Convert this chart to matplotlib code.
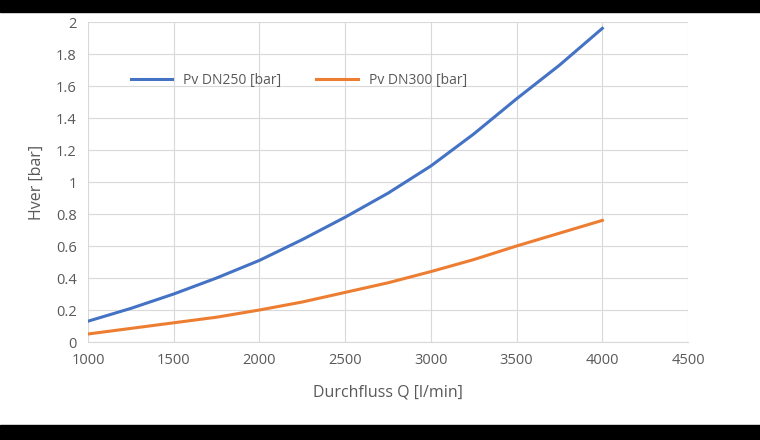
import matplotlib
matplotlib.use("Agg")
import matplotlib.pyplot as plt
from matplotlib.patches import Rectangle

q = [1000, 1250, 1500, 1750, 2000, 2250, 2500, 2750, 3000, 3250, 3500, 3750, 4000]
dn250 = [0.13, 0.21, 0.30, 0.40, 0.51, 0.64, 0.78, 0.93, 1.10, 1.30, 1.52, 1.73, 1.96]
dn300 = [0.05, 0.085, 0.12, 0.155, 0.20, 0.25, 0.31, 0.37, 0.44, 0.515, 0.60, 0.68, 0.76]
xticks = [1000, 1500, 2000, 2500, 3000, 3500, 4000, 4500]
yticks = [0, 0.2, 0.4, 0.6, 0.8, 1, 1.2, 1.4, 1.6, 1.8, 2]
ylabels = ["0", "0.2", "0.4", "0.6", "0.8", "1", "1.2", "1.4", "1.6", "1.8", "2"]

plt.rcParams["font.family"] = "Open Sans"
fig = plt.figure(figsize=(7.6, 4.4), dpi=100)
fig.patches.append(Rectangle((0, 1 - 12/440), 1, 12/440, transform=fig.transFigure, color="black", zorder=0))
fig.patches.append(Rectangle((0, 0), 1, 15/440, transform=fig.transFigure, color="black", zorder=0))
ax = fig.add_axes([88/760, 1 - 342/440, 600/760, 320/440])
ax.plot(q, dn250, color="#4472C4", lw=2.2, label="Pv DN250 [bar]")
ax.plot(q, dn300, color="#ED7D31", lw=2.2, label="Pv DN300 [bar]")
ax.set_xlim(1000, 4500)
ax.set_ylim(0, 2)
ax.set_xticks(xticks)
ax.set_yticks(yticks)
ax.set_yticklabels(ylabels)
ax.grid(True, color="#D9D9D9", lw=0.8)
ax.set_axisbelow(True)
for s in ["top", "right", "left"]:
    ax.spines[s].set_visible(False)
ax.spines["bottom"].set_color("#D9D9D9")
ax.tick_params(length=0, colors="#595959", labelsize=10.5, pad=8)
ax.set_xlabel("Durchfluss Q [l/min]", color="#595959", fontsize=11.5, labelpad=12)
ax.set_ylabel("Hver [bar]", color="#595959", fontsize=11.5, labelpad=8)
ax.legend(loc="upper left", bbox_to_anchor=(0.05, 0.88), ncol=2, frameon=False,
          fontsize=10, labelcolor="#595959", columnspacing=2.5, handlelength=3)
fig.savefig("out.png", dpi=100)
